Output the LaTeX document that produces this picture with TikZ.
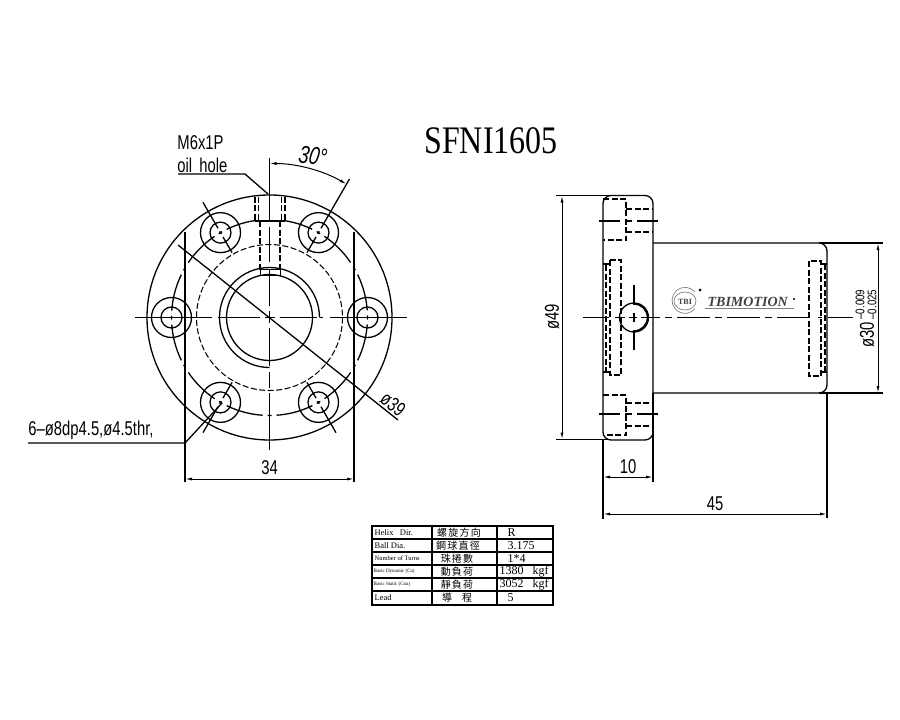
\documentclass[tikz,border=0pt]{standalone}
\usepackage{fontspec}
\setmainfont{Liberation Serif}
\setsansfont{Liberation Sans}
\newfontfamily\cjk[LetterSpace=12]{Noto Sans CJK TC}
\usepackage{tikz}
\usetikzlibrary{arrows.meta}

\begin{document}
\begin{tikzpicture}[x=1pt,y=-1pt,line cap=butt,line width=1.3pt,hiddenline/.style={line width=1.05pt,dash pattern=on 6pt off 2.5pt},chainline/.style={line width=1.3pt},holeaxis/.style={line width=1.3pt,dash pattern=on 18pt off 3.5pt on 3pt off 3.5pt on 100pt},pitchline/.style={line width=1.3pt,dash pattern=on 37.3pt off 5pt on 4pt off 5pt,dash phase=44.3pt},dimline/.style={line width=1pt,{Latex[length=7pt,width=3pt]}-{Latex[length=7pt,width=3pt]}},dimlabel/.style={font=\sffamily\fontsize{20}{20}\selectfont,inner sep=0pt,xscale=.74},tollabel/.style={font=\sffamily\fontsize{12.5}{12.5}\selectfont,inner sep=0pt,xscale=.78},cellen/.style={font=\fontsize{8.5}{8.5}\selectfont,inner sep=0pt,anchor=west},cellcjk/.style={font=\cjk\fontsize{10}{10}\selectfont,inner sep=0pt},cellval/.style={font=\fontsize{12}{12}\selectfont,inner sep=0pt,anchor=west}]
	
	\useasboundingbox (0,0) rectangle (900,720);
	
	\node[font=\fontsize{39}{39}\selectfont,inner sep=0pt,xscale=.82] (title) at (491,141) {SFNI1605};
	
	% front view
	\begin{scope}[shift={(269.5,317.5)}]
		\coordinate (front) at (0,0);
		\draw (front) circle[radius=122.5];
		\draw[pitchline] (98,0) arc[start angle=0,end angle=360,radius=98];
		\draw[hiddenline] (front) circle[radius=73];
		\draw (front) circle[radius=43];
		\draw (0,50) arc[start angle=90,end angle=360,radius=50];
		
		\draw (0:98) circle[radius=20];
		\draw (60:98) circle[radius=20];
		\draw (120:98) circle[radius=20];
		\draw (180:98) circle[radius=20];
		\draw (240:98) circle[radius=20];
		\draw (300:98) circle[radius=20];
		\draw (0:98) circle[radius=10.5];
		\draw (60:98) circle[radius=10.5];
		\draw (120:98) circle[radius=10.5];
		\draw (180:98) circle[radius=10.5];
		\draw (240:98) circle[radius=10.5];
		\draw (300:98) circle[radius=10.5];
		
		\draw[holeaxis] (60:75) -- (60:133);
		\draw[holeaxis] (120:75) -- (120:133);
		\draw[holeaxis] (240:75) -- (240:133);
		\draw[holeaxis] (300:75) -- (300:160);
		
		% oil hole
		\fill[white] (-14.5,-121) rectangle (15.5,-96);
		\draw[hiddenline] (-14.5,-121) -- (-14.5,-96.5) (-11,-121) -- (-11,-96.5) (12,-121) -- (12,-96.5) (15.5,-121) -- (15.5,-96.5);
		\draw[line width=1.8pt] (-14.5,-96.5) -- (15.5,-96.5);
		\draw[hiddenline] (-9.5,-96.5) -- (-9.5,-48) (10.5,-96.5) -- (10.5,-48);
		\draw[line width=1pt] (-9.5,-48.5) rectangle (10.5,-42.5);
	\end{scope}
	
	% centre lines of the front view
	\draw[chainline] (135,317.5) -- (212,317.5) (218,317.5) -- (260,317.5) (265,317.5) -- (275,317.5) (280,317.5) -- (317,317.5) (320,317.5) -- (323,317.5) (330,317.5) -- (407,317.5);
	\draw[chainline] (269.5,158) -- (269.5,222) (269.5,227) -- (269.5,262) (269.5,270) -- (269.5,306) (269.5,311) -- (269.5,323) (269.5,328) -- (269.5,366) (269.5,372) -- (269.5,388) (269.5,393) -- (269.5,450);
	\draw (185,232) -- (185,482);
	\draw (354,232) -- (354,482);
	\draw[dimline] (185,479) -- (354,479);
	\node[dimlabel] (widthlabel) at (269.5,468) {34};
	
	\draw[dimline] (269.5,163.5) arc[start angle=270,end angle=300,radius=154];
	\node[rotate=-10,dimlabel,font=\sffamily\itshape\fontsize{25}{25}\selectfont] (anglelabel) at (313,156) {30°};
	
	\draw (178,245) -- (398,420);
	\node[rotate=-38,dimlabel] (pcdlabel) at (393,404) {ø39};
	
	\coordinate (oilend) at (268,194);
	\coordinate (oilknee) at (245,174);
	\coordinate (oilstart) at (178,174);
	\draw (oilstart) -- (oilknee) -- (oilend);
	\node[dimlabel,anchor=west] (threadlabel) at (177,142.5) {M6x1P};
	\node[dimlabel,anchor=west] (oillabel) at (177,165) {oil\hspace{.2em} hole};
	
	\coordinate (holeend) at (222,403);
	\coordinate (holeknee) at (185,443);
	\coordinate (holestart) at (28,443);
	\draw (holestart) -- (holeknee) -- (holeend);
	\node[dimlabel,anchor=west] (holelabel) at (28,430) {6–ø8dp4.5,ø4.5thr,};
	
	% side view
	\draw[rounded corners=8pt] (603,195.5) rectangle (653,440);
	\draw[rounded corners=8pt] (653,243) -- (827,243) -- (827,393) -- (653,393);
	\draw[hiddenline] (603,199) -- (626,199) -- (626,240) -- (603,240);
	\draw[hiddenline] (626,209) -- (653,209) (626,232) -- (653,232);
	\draw[hiddenline] (603,395) -- (626,395) -- (626,435) -- (603,435);
	\draw[hiddenline] (626,403) -- (653,403) (626,426) -- (653,426);
	\draw[chainline] (599,221) -- (620,221) (625,221) -- (632,221) (637,221) -- (658,221);
	\draw[chainline] (599,414) -- (620,414) (625,414) -- (632,414) (637,414) -- (658,414);
	
	\draw[hiddenline] (610,260) rectangle (621,375);
	\draw[hiddenline] (606,265) -- (606,372);
	\draw (603,264) -- (610,264) (603,372) -- (610,372);
	\draw[hiddenline] (809,261) rectangle (821,376);
	\draw[hiddenline] (825,264) -- (825,372);
	\draw (821,264) -- (827,264) (821,372) -- (827,372);
	
	\draw[chainline] (583,317.5) -- (609,317.5) (615,317.5) -- (625,317.5) (629,317.5) -- (637,317.5) (641,317.5) -- (660,317.5) (665,317.5) -- (672,317.5) (677,317.5) -- (710,317.5) (715,317.5) -- (722,317.5) (727,317.5) -- (760,317.5) (765,317.5) -- (772,317.5) (777,317.5) -- (810,317.5) (818,317.5) -- (822,317.5) (828,317.5) -- (853,317.5);
	\draw (634,317.5) circle[radius=14.5];
	\draw[line width=1.6pt] (634,304) arc[start angle=270,end angle=450,radius=13.5];
	\draw[chainline] (634,285) -- (634,305) (634,313) -- (634,322) (634,330) -- (634,350);
	
	% logo
	\draw[line width=.7pt,gray] (695,292) arc[start angle=-40,end angle=-320,radius=13];
	\draw[line width=.7pt,gray] (685,301) ellipse[x radius=11,y radius=9];
	\node[font=\bfseries\fontsize{8}{8}\selectfont,inner sep=0pt,text=black!75] (logomark) at (685,302) {TBI};
	\fill (700,290) circle[radius=1.5];
	\node[font=\bfseries\itshape\fontsize{14}{14}\selectfont,inner sep=0pt,anchor=west,text=black!75] (logotext) at (707,301.5) {TBIMOTION};
	\fill (794,299) circle[radius=1.2];
	\draw[line width=.6pt,gray] (705,308.5) -- (794,308.5);
	
	% dimensions of the side view
	\draw (556,195.5) -- (610,195.5);
	\draw (556,439.5) -- (610,439.5);
	\draw[dimline] (562,195.5) -- (562,439.5);
	\node[rotate=90,dimlabel] (flangelabel) at (552,317) {ø49};
	
	\draw (603,440) -- (603,519);
	\draw (653,393) -- (653,482);
	\draw (827,393) -- (827,518);
	\draw[dimline] (603,477) -- (653,477);
	\node[dimlabel] (thicklabel) at (628,467) {10};
	\draw[dimline] (603,514) -- (827,514);
	\node[dimlabel] (lengthlabel) at (715,504) {45};
	
	\draw (819,243) -- (883,243);
	\draw (819,393) -- (883,393);
	\draw[dimline] (878,243) -- (878,393);
	\node[rotate=90,dimlabel,anchor=west] (bodylabel) at (867,348) {ø30};
	\node[rotate=90,tollabel,anchor=west] (upperlabel) at (860,320) {–0.009};
	\node[rotate=90,tollabel,anchor=west] (lowerlabel) at (872,320) {–0.025};
	
	% table
	\draw (372,526) rectangle (553,605);
	\draw (372,539) -- (553,539);
	\draw (372,552) -- (553,552);
	\draw (372,565) -- (553,565);
	\draw (372,578) -- (553,578);
	\draw (372,591) -- (553,591);
	\draw (432,526) -- (432,605);
	\draw (497,526) -- (497,605);
	
	\node[cellen] (helix) at (374,532.5) {Helix\hspace{.5em} Dir.};
	\node[cellen] (ball) at (374,545.5) {Ball Dia.};
	\node[cellen,font=\fontsize{6.5}{6.5}\selectfont] (turns) at (374,558.5) {Number of Turns};
	\node[cellen,font=\fontsize{5}{5}\selectfont] (dynamic) at (373,571.5) {Basic Dynamic (Ca)};
	\node[cellen,font=\fontsize{5}{5}\selectfont] (static) at (373,584.5) {Basic Static (Coa)};
	\node[cellen] (lead) at (374,598) {Lead};
	
	\node[cellcjk] (helixcn) at (459,532.5) {螺旋方向};
	\node[cellcjk] (ballcn) at (458,545.5) {鋼球直徑};
	\node[cellcjk] (turnscn) at (457,558.5) {珠捲數};
	\node[cellcjk] (dynamiccn) at (457,571.5) {動負荷};
	\node[cellcjk] (staticcn) at (457,584.5) {靜負荷};
	\node[cellcjk] (leadcn) at (457,598) {導\hspace{1em}程};
	
	\node[cellval] (helixval) at (507,532.5) {R};
	\node[cellval] (ballval) at (507,545.5) {3.175};
	\node[cellval] (turnsval) at (507,558.5) {1*4};
	\node[cellval] (dynamicval) at (499,571.5) {1380\hspace{.75em}kgf};
	\node[cellval] (staticval) at (499,584.5) {3052\hspace{.75em}kgf};
	\node[cellval] (leadval) at (507,598) {5};
	
\end{tikzpicture}
\end{document}
